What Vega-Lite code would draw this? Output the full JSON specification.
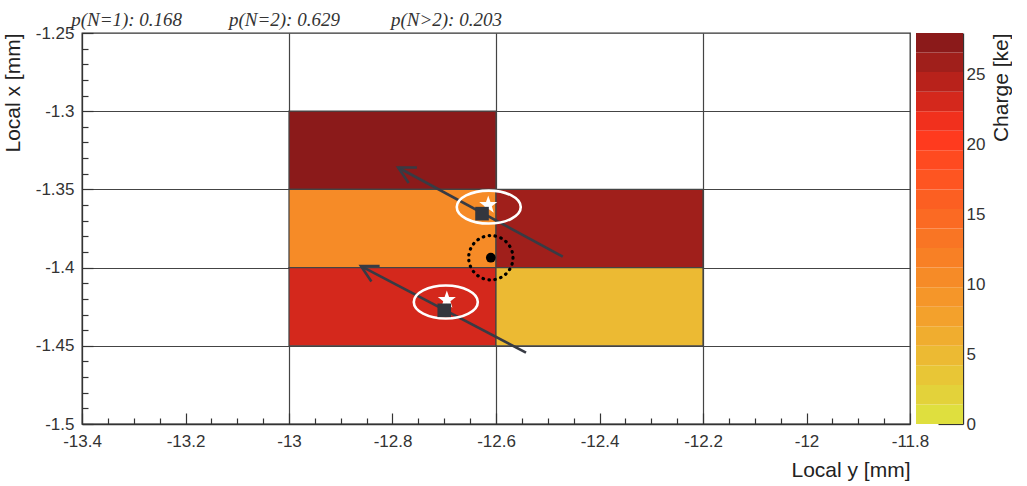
{
  "$schema": "https://vega.github.io/schema/vega-lite/v6.json",
  "background": "white",
  "padding": {"left": 1, "top": 10, "right": 0, "bottom": 0},
  "bounds": "flush",
  "spacing": 6,
  "config": {
    "font": "Liberation Sans",
    "axis": {
      "labelFont": "Liberation Sans",
      "labelFontSize": 17,
      "labelColor": "#333333",
      "titleFont": "Liberation Sans",
      "titleFontSize": 21,
      "titleFontWeight": "normal",
      "titleColor": "#222222",
      "domainColor": "#333333",
      "domainWidth": 1.3,
      "tickColor": "#333333",
      "tickWidth": 1.2,
      "labelOverlap": false,
      "labelFlush": false,
      "labelBound": false
    }
  },
  "datasets": {
    "pixels": [
      {"ly0": -13.0, "ly1": -12.6, "lx0": -1.35, "lx1": -1.3, "charge": 27.3},
      {"ly0": -13.0, "ly1": -12.6, "lx0": -1.4, "lx1": -1.35, "charge": 10.5},
      {"ly0": -12.6, "ly1": -12.2, "lx0": -1.4, "lx1": -1.35, "charge": 25.9},
      {"ly0": -13.0, "ly1": -12.6, "lx0": -1.45, "lx1": -1.4, "charge": 23.0},
      {"ly0": -12.6, "ly1": -12.2, "lx0": -1.45, "lx1": -1.4, "charge": 5.0}
    ],
    "tracks": [
      {"track": "A", "end": "tail", "ly": -12.471, "lx": -1.393},
      {"track": "A", "end": "tip", "ly": -12.789, "lx": -1.336},
      {"track": "B", "end": "tail", "ly": -12.542, "lx": -1.4544},
      {"track": "B", "end": "tip", "ly": -12.861, "lx": -1.399}
    ],
    "points": [
      {"kind": "ellipse", "ly": -12.614, "lx": -1.3613},
      {"kind": "ellipse", "ly": -12.697, "lx": -1.422},
      {"kind": "true", "ly": -12.615, "lx": -1.36},
      {"kind": "true", "ly": -12.695, "lx": -1.4207},
      {"kind": "reco", "ly": -12.627, "lx": -1.3655},
      {"kind": "reco", "ly": -12.7, "lx": -1.4273},
      {"kind": "centre", "ly": -12.61, "lx": -1.3937}
    ],
    "labels": [
      {"text": "p(N=1): 0.168", "ly": -13.421, "lx": -1.2455},
      {"text": "p(N=2): 0.629", "ly": -13.116, "lx": -1.2455},
      {"text": "p(N>2): 0.203", "ly": -12.803, "lx": -1.2455}
    ],
    "bands": [
      {"lo": 0, "hi": 1.4}, {"lo": 1.4, "hi": 2.8}, {"lo": 2.8, "hi": 4.2}, {"lo": 4.2, "hi": 5.6},
      {"lo": 5.6, "hi": 7}, {"lo": 7, "hi": 8.4}, {"lo": 8.4, "hi": 9.8}, {"lo": 9.8, "hi": 11.2},
      {"lo": 11.2, "hi": 12.6}, {"lo": 12.6, "hi": 14}, {"lo": 14, "hi": 15.4}, {"lo": 15.4, "hi": 16.8},
      {"lo": 16.8, "hi": 18.2}, {"lo": 18.2, "hi": 19.6}, {"lo": 19.6, "hi": 21}, {"lo": 21, "hi": 22.4},
      {"lo": 22.4, "hi": 23.8}, {"lo": 23.8, "hi": 25.2}, {"lo": 25.2, "hi": 26.6}, {"lo": 26.6, "hi": 28}
    ]
  },
  "hconcat": [
    {
      "width": 828,
      "height": 391,
      "view": {"stroke": "#333333", "strokeWidth": 1.3},
      "layer": [
        {
          "data": {"name": "pixels"},
          "mark": {"type": "rect", "stroke": "#444444", "strokeWidth": 1.2},
          "encoding": {
            "x": {
              "field": "ly0", "type": "quantitative",
              "scale": {"domain": [-13.4, -11.8], "nice": false, "zero": false},
              "axis": {
                "title": "Local y [mm]",
                "titleAnchor": "end",
                "titleAlign": "right",
                "titlePadding": 5,
                "tickCount": 200,
                "values": [-13.4, -13.35, -13.3, -13.25, -13.2, -13.15, -13.1, -13.05, -13, -12.95, -12.9, -12.85, -12.8, -12.75, -12.7, -12.65, -12.6, -12.55, -12.5, -12.45, -12.4, -12.35, -12.3, -12.25, -12.2, -12.15, -12.1, -12.05, -12, -11.95, -11.9, -11.85, -11.8],
                "labelExpr": "abs(datum.value * 5 - round(datum.value * 5)) < 1e-6 ? '' + datum.value : ''",
                "tickSize": {"condition": {"test": "abs(datum.value * 5 - round(datum.value * 5)) < 1e-6", "value": -11}, "value": -6},
                "labelPadding": 20,
                "grid": true,
                "gridColor": "#444444",
                "gridWidth": 1.2,
                "gridOpacity": {"condition": {"test": "indexof([-13, -12.6, -12.2], datum.value) >= 0", "value": 1}, "value": 0}
              }
            },
            "x2": {"field": "ly1"},
            "y": {
              "field": "lx0", "type": "quantitative",
              "scale": {"domain": [-1.5, -1.25], "nice": false, "zero": false},
              "axis": {
                "title": "Local x [mm]",
                "titleAnchor": "end",
                "titleAlign": "right",
                "titlePadding": 12,
                "tickCount": 200,
                "values": [-1.5, -1.49, -1.48, -1.47, -1.46, -1.45, -1.44, -1.43, -1.42, -1.41, -1.4, -1.39, -1.38, -1.37, -1.36, -1.35, -1.34, -1.33, -1.32, -1.31, -1.3, -1.29, -1.28, -1.27, -1.26, -1.25],
                "labelExpr": "abs(datum.value * 20 - round(datum.value * 20)) < 1e-6 ? '' + datum.value : ''",
                "tickSize": {"condition": {"test": "abs(datum.value * 20 - round(datum.value * 20)) < 1e-6", "value": -11}, "value": -6},
                "labelPadding": 19,
                "grid": true,
                "gridColor": "#444444",
                "gridWidth": 1.2,
                "gridOpacity": {"condition": {"test": "indexof([-1.45, -1.4, -1.35, -1.3], datum.value) >= 0", "value": 1}, "value": 0}
              }
            },
            "y2": {"field": "lx1"},
            "color": {
              "field": "charge", "type": "quantitative",
              "scale": {
                "type": "threshold",
                "domain": [1.4, 2.8, 4.2, 5.6, 7, 8.4, 9.8, 11.2, 12.6, 14, 15.4, 16.8, 18.2, 19.6, 21, 22.4, 23.8, 25.2, 26.6],
                "range": ["#dfdf3e", "#e3d23a", "#e8c636", "#ecba33", "#f0ad2f", "#f3a12c", "#f59629", "#f68b27", "#f88025", "#f97524", "#fb6a23", "#fc5f22", "#fe5521", "#ff4a20", "#ff3a1e", "#f1301d", "#d4281c", "#b8221b", "#a01f1b", "#8b1a1a"]
              },
              "legend": null
            }
          }
        },
        {
          "data": {"name": "tracks"},
          "mark": {"type": "line", "color": "#383b44", "strokeWidth": 2.6},
          "encoding": {
            "x": {"field": "ly", "type": "quantitative"},
            "y": {"field": "lx", "type": "quantitative"},
            "detail": {"field": "track"}
          }
        },
        {
          "data": {"name": "tracks"},
          "transform": [{"filter": "datum.end === 'tip'"}],
          "mark": {"type": "point", "shape": "M-0.883,-0.469L0,0L-0.883,0.469", "filled": false, "stroke": "#383b44", "strokeWidth": 2.6, "size": 1400, "angle": 208, "opacity": 1},
          "encoding": {
            "x": {"field": "ly", "type": "quantitative"},
            "y": {"field": "lx", "type": "quantitative"}
          }
        },
        {
          "data": {"name": "points"},
          "transform": [{"filter": "datum.kind === 'ellipse'"}],
          "mark": {"type": "point", "shape": "M-1,0A1,0.515,0,1,0,1,0A1,0.515,0,1,0,-1,0Z", "filled": false, "stroke": "white", "strokeWidth": 2.6, "size": 4096, "opacity": 1},
          "encoding": {
            "x": {"field": "ly", "type": "quantitative"},
            "y": {"field": "lx", "type": "quantitative"}
          }
        },
        {
          "data": {"name": "points"},
          "transform": [{"filter": "datum.kind === 'true'"}],
          "mark": {"type": "point", "shape": "M0,-1L0.235,-0.324L0.951,-0.309L0.38,0.124L0.588,0.809L0,0.4L-0.588,0.809L-0.38,0.124L-0.951,-0.309L-0.235,-0.324Z", "filled": true, "fill": "white", "size": 361, "opacity": 1},
          "encoding": {
            "x": {"field": "ly", "type": "quantitative"},
            "y": {"field": "lx", "type": "quantitative"}
          }
        },
        {
          "data": {"name": "points"},
          "transform": [{"filter": "datum.kind === 'reco'"}],
          "mark": {"type": "square", "filled": true, "color": "#33363e", "size": 185, "opacity": 1},
          "encoding": {
            "x": {"field": "ly", "type": "quantitative"},
            "y": {"field": "lx", "type": "quantitative"}
          }
        },
        {
          "data": {"name": "points"},
          "transform": [{"filter": "datum.kind === 'centre'"}],
          "mark": {"type": "point", "shape": "circle", "filled": false, "stroke": "black", "strokeWidth": 3.2, "strokeDash": [0.5, 5.5], "strokeCap": "round", "size": 1963, "opacity": 1},
          "encoding": {
            "x": {"field": "ly", "type": "quantitative"},
            "y": {"field": "lx", "type": "quantitative"}
          }
        },
        {
          "data": {"name": "points"},
          "transform": [{"filter": "datum.kind === 'centre'"}],
          "mark": {"type": "circle", "color": "black", "size": 95, "opacity": 1},
          "encoding": {
            "x": {"field": "ly", "type": "quantitative"},
            "y": {"field": "lx", "type": "quantitative"}
          }
        },
        {
          "data": {"name": "labels"},
          "mark": {"type": "text", "align": "left", "baseline": "alphabetic", "font": "Liberation Serif", "fontStyle": "italic", "fontSize": 19, "color": "#333333"},
          "encoding": {
            "x": {"field": "ly", "type": "quantitative"},
            "y": {"field": "lx", "type": "quantitative"},
            "text": {"field": "text"}
          }
        }
      ]
    },
    {
      "width": 47,
      "height": 391,
      "view": {"stroke": null},
      "data": {"name": "bands"},
      "mark": {"type": "rect"},
      "encoding": {
        "y": {
          "field": "lo", "type": "quantitative",
          "scale": {"domain": [0, 28], "nice": false, "zero": false},
          "axis": {
            "orient": "right",
            "values": [0, 5, 10, 15, 20, 25],
            "tickSize": -25,
            "labelPadding": 28,
            "grid": false,
            "title": "Charge [ke]",
            "titleAngle": 270,
            "titleAnchor": "end",
            "titleAlign": "right",
            "titleBaseline": "top",
            "titlePadding": 6
          }
        },
        "y2": {"field": "hi"},
        "color": {
          "field": "lo", "type": "quantitative",
          "scale": {
            "type": "threshold",
            "domain": [1.4, 2.8, 4.2, 5.6, 7, 8.4, 9.8, 11.2, 12.6, 14, 15.4, 16.8, 18.2, 19.6, 21, 22.4, 23.8, 25.2, 26.6],
            "range": ["#dfdf3e", "#e3d23a", "#e8c636", "#ecba33", "#f0ad2f", "#f3a12c", "#f59629", "#f68b27", "#f88025", "#f97524", "#fb6a23", "#fc5f22", "#fe5521", "#ff4a20", "#ff3a1e", "#f1301d", "#d4281c", "#b8221b", "#a01f1b", "#8b1a1a"]
          },
          "legend": null
        }
      }
    }
  ]
}
